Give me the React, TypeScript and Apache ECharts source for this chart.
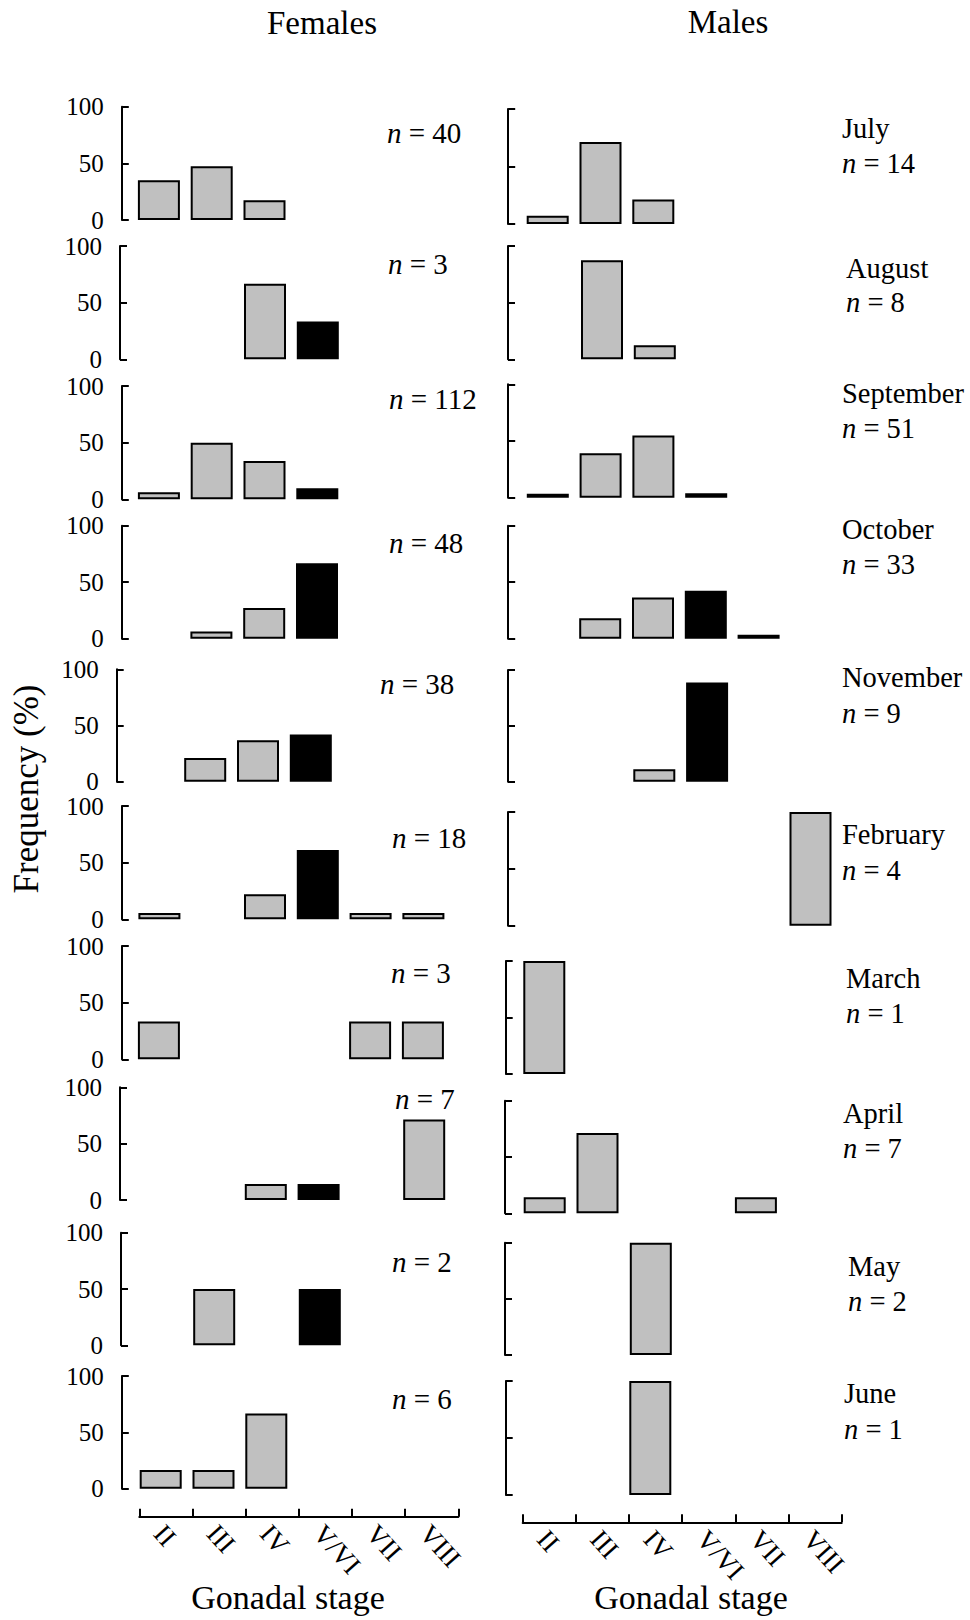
import React, { useEffect, useRef } from "react";
import * as echarts from "echarts";

// ---------------- DATA ----------------
const stages = ["II", "III", "IV", "V/VI", "VII", "VIII"];
const months = ["July", "August", "September", "October", "November", "February", "March", "April", "May", "June"];
const femaleN = [40, 3, 112, 48, 38, 18, 3, 7, 2, 6];
const maleN = [14, 8, 51, 33, 9, 4, 1, 7, 2, 1];
const yTicks = [0, 50, 100];

// female frequency (%) by stage, per month (null = no bar)
const femaleJul = [35, 47.5, 17.5, null, null, null];
const femaleAug = [null, null, 66.7, 33.3, null, null];
const femaleSep = [6.3, 50.0, 33.9, 9.8, null, null];
const femaleOct = [null, 6.3, 27.1, 66.7, null, null];
const femaleNov = [null, 21.1, 36.8, 42.1, null, null];
const femaleFeb = [5.6, null, 22.2, 61.1, 5.6, 5.6];
const femaleMar = [33.3, null, null, null, 33.3, 33.3];
const femaleApr = [null, null, 14.3, 14.3, null, 71.4];
const femaleMay = [null, 50, null, 50, null, null];
const femaleJun = [16.7, 16.7, 66.7, null, null, null];

// male frequency (%) by stage, per month
const maleJul = [7.1, 71.4, 21.4, null, null, null];
const maleAug = [null, 87.5, 12.5, null, null, null];
const maleSep = [3.5, 39.2, 54.9, 4.0, null, null];
const maleOct = [null, 18.2, 36.4, 42.4, 3.5, null];
const maleNov = [null, null, 11.1, 88.9, null, null];
const maleFeb = [null, null, null, null, null, 100];
const maleMar = [100, null, null, null, null, null];
const maleApr = [14.3, 71.4, null, null, 14.3, null];
const maleMay = [null, null, 100, null, null, null];
const maleJun = [null, null, 100, null, null, null];

const femaleValues = [femaleJul, femaleAug, femaleSep, femaleOct, femaleNov, femaleFeb, femaleMar, femaleApr, femaleMay, femaleJun];
const maleValues = [maleJul, maleAug, maleSep, maleOct, maleNov, maleFeb, maleMar, maleApr, maleMay, maleJun];

// ---------------- LAYOUT (pixels) ----------------
// [y of 100, y of 0, grid left, y-axis x]
const femaleLayout = [
  [106.7, 220, 132.5, 121.8],
  [246, 359.3, 133, 120],
  [386, 499.3, 132.5, 121.8],
  [525.7, 638.7, 132.2, 121.8],
  [669.3, 781.7, 126, 116.7],
  [806, 919.3, 133, 121.8],
  [946, 1059.3, 132.5, 121.8],
  [1087.3, 1200, 133.8, 120],
  [1232.7, 1345.3, 135, 121],
  [1376, 1488.7, 134.3, 121.8],
];
const maleLayout = [
  [109, 224, 521.3, 508.2],
  [246, 359.3, 522.8, 508],
  [384.3, 497.7, 521.4, 508.2],
  [525.7, 638.7, 521, 508.2],
  [670, 781.7, 522.3, 508],
  [812, 925.7, 520.1, 508.2],
  [961, 1074, 517.9, 505.7],
  [1100.7, 1213.3, 518.3, 505],
  [1242.7, 1355, 518.8, 505],
  [1381, 1495, 518.3, 505.7],
];
// female "n =" label positions [x, y]
const femaleNPos = [
  [387, 133], [388, 264], [389, 399], [389, 543], [380, 684],
  [392, 838], [391, 973], [395, 1099], [392, 1262], [392, 1399],
];
// month label positions [x, yMonth, yN]
const monthPos = [
  [842, 128, 163], [846, 268, 302], [842, 393, 428], [842, 529, 564], [842, 677, 713],
  [842, 834, 870], [846, 978, 1013], [843, 1113, 1148], [848, 1266, 1301], [844, 1393, 1429],
];

const FONT = "Liberation Serif";
const GRID_W = 316.8;
const stageColor = (i: number) => (stages[i] === "V/VI" ? "#000000" : "#c0c0c0");

export default function App() {
  const ref = useRef<HTMLDivElement>(null);

  useEffect(() => {
    document.body.style.margin = "0";
    document.body.style.overflow = "hidden";
    if (!ref.current) return;
    const chart = echarts.init(ref.current, undefined, { renderer: "svg" });

    const grids: any[] = [];
    const xAxes: any[] = [];
    const yAxes: any[] = [];
    const series: any[] = [];
    const graphic: any[] = [];

    const addPanel = (vals: (number | null)[], lay: number[], showLabels: boolean) => {
      const gi = grids.length;
      const [yTop, yZero, left, axisX] = lay;
      grids.push({ left, top: yTop, width: GRID_W, height: yZero - yTop });
      xAxes.push({
        gridIndex: gi,
        type: "category",
        data: stages,
        boundaryGap: true,
        show: false,
      });
      yAxes.push({
        gridIndex: gi,
        type: "value",
        min: yTicks[0],
        max: yTicks[yTicks.length - 1],
        interval: yTicks[1] - yTicks[0],
        offset: left - axisX,
        axisLine: { show: true, lineStyle: { color: "#000", width: 2 } },
        axisTick: { show: true, inside: true, length: 7, lineStyle: { color: "#000", width: 2 } },
        axisLabel: {
          show: showLabels,
          margin: 18,
          fontSize: 25,
          lineHeight: 20,
          color: "#000",
          fontFamily: FONT,
        },
        splitLine: { show: false },
      });
      series.push({
        type: "bar",
        xAxisIndex: gi,
        yAxisIndex: gi,
        barWidth: 42,
        data: vals.map((v, i) =>
          v == null
            ? null
            : { value: v, itemStyle: { color: stageColor(i), borderColor: "#000", borderWidth: 2 } }
        ),
      });
    };

    for (let m = 0; m < months.length; m++) {
      addPanel(femaleValues[m], femaleLayout[m], true);
      addPanel(maleValues[m], maleLayout[m], false);
    }

    // bottom stage axes: line+ticks grid and label grid (labels shifted slightly left)
    const addBottom = (left: number, yLine: number, withLine: boolean) => {
      const gi = grids.length;
      grids.push({ left, top: yLine - 1, width: 319, height: 1 });
      xAxes.push({
        gridIndex: gi,
        type: "category",
        data: stages,
        boundaryGap: true,
        axisLine: { show: withLine, lineStyle: { color: "#000", width: 2 } },
        axisTick: {
          show: withLine,
          inside: true,
          length: 8,
          interval: 0,
          lineStyle: { color: "#000", width: 2 },
        },
        axisLabel: {
          show: !withLine,
          interval: 0,
          rotate: -48,
          margin: 12,
          fontSize: 27,
          color: "#000",
          fontFamily: FONT,
        },
      });
      yAxes.push({ gridIndex: gi, type: "value", min: 0, max: 1, show: false });
    };
    addBottom(139.3, 1516.7, true);
    addBottom(132.3, 1516.7, false);
    addBottom(522.7, 1522.3, true);
    addBottom(515.7, 1522.3, false);

    // texts
    const txt = (x: number, y: number, text: string, size: number, align = "left", extra: any = {}) => ({
      type: "text",
      x,
      y,
      silent: true,
      ...extra,
      style: {
        text,
        fill: "#000",
        fontSize: size,
        fontFamily: FONT,
        align,
        verticalAlign: "middle",
        ...(extra.style || {}),
      },
    });
    const nRich = (size: number) => ({
      rich: { i: { fontStyle: "italic", fontSize: size, fontFamily: FONT, fill: "#000" } },
    });

    graphic.push(txt(322, 23, "Females", 33, "center"));
    graphic.push(txt(728, 22, "Males", 33, "center"));
    graphic.push(txt(288, 1597, "Gonadal stage", 34, "center"));
    graphic.push(txt(691, 1597, "Gonadal stage", 34, "center"));
    graphic.push(txt(26, 789, "Frequency (%)", 35, "center", { rotation: Math.PI / 2 }));

    for (let m = 0; m < months.length; m++) {
      const [fx, fy] = femaleNPos[m];
      graphic.push(txt(fx, fy, `{i|n} = ${femaleN[m]}`, 29, "left", { style: nRich(29) }));
      const [mx, my, ny] = monthPos[m];
      graphic.push(txt(mx, my, months[m], 28.5, "left"));
      graphic.push(txt(mx, ny, `{i|n} = ${maleN[m]}`, 28.5, "left", { style: nRich(28.5) }));
    }

    chart.setOption({
      animation: false,
      backgroundColor: "#ffffff",
      textStyle: { fontFamily: FONT },
      grid: grids,
      xAxis: xAxes,
      yAxis: yAxes,
      series,
      graphic,
    });

    return () => chart.dispose();
  }, []);

  return <div ref={ref} style={{ width: 970, height: 1620 }} />;
}
